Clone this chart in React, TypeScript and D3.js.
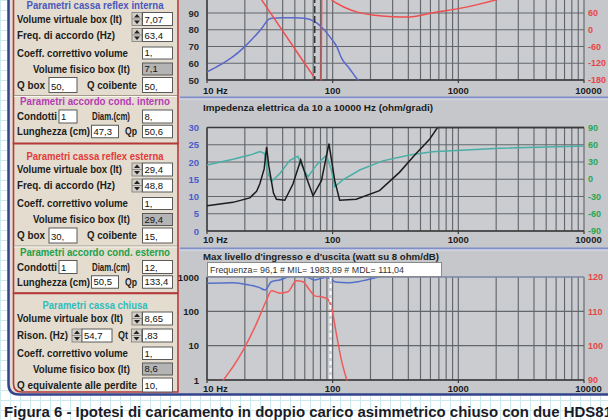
import React from "react";
import * as d3 from "d3";

const FONT = "'Liberation Sans', Arial, sans-serif";

// ---------------- chart data ----------------
const freqTicks = [10, 100, 1000, 10000];
const freqTickLabels = ["10 Hz", "100", "1000", "10000"];

// panel 1 : SPL (dB) + phase (deg)
const splTicks = [50, 60, 70, 80, 90];
const splPhaseTicks = [-180, -120, -60, 0, 60];
const splCurve: [number, number][] = [
  [10, 54.8], [12.7, 59], [16.1, 63.9], [19.3, 68.9], [23.2, 74.9], [27.3, 80.9], [30.5, 85.8],
  [32.8, 86.8], [40, 87.2], [50, 87.2], [59.9, 86.8], [72, 84.8], [83.3, 80.9], [94.8, 75.9],
  [107.8, 69.9], [118, 62.9], [136, 56.9], [155, 51], [175, 46],
];
const splPhaseLow: [number, number][] = [
  [15, 290], [20, 205], [27.3, 106], [40, -4], [54.6, -94], [72, -173], [74, -185],
];
const splPhaseHigh: [number, number][] = [
  [81, -185], [82.5, 230], [88, 160], [95, 115], [114, 89], [155, 64], [207, 53], [300, 47],
  [410, 46], [620, 60], [1160, 81], [2000, 107], [3000, 130],
];
const splCursorFreq = 72;

// panel 2 : impedance (ohm) + phase (deg)
const impTitle = "Impedenza elettrica da 10 a 10000 Hz (ohm/gradi)";
const impTicks = [0, 5, 10, 15, 20, 25, 30];
const impPhaseTicks = [-90, -60, -30, 0, 30, 60, 90];
const impedance: [number, number][] = [
  [10, 7.3], [16.1, 8.3], [21.9, 9.6], [24.8, 11.5], [26.3, 13.6], [28.5, 18], [29.8, 24.3],
  [31, 19], [32.6, 14.3], [33.8, 11], [35.7, 9.2], [41.6, 8.9], [48.3, 13.6], [55.7, 20.6],
  [61.8, 15.5], [69.8, 10.2], [81.4, 14.6], [93.4, 25.3], [103.9, 14.6], [113.7, 8.9],
  [154, 9.2], [236, 11.7], [340, 17], [450, 22], [588, 26.5], [683, 30], [800, 34],
  [1500, 50], [10000, 120],
];
const impPhase: [number, number][] = [
  [10, 24.8], [16.1, 34.7], [21.9, 42], [26.3, 48], [28.6, 45], [30.6, 10], [32.6, -4],
  [38, 10], [45.6, 33], [52.9, 40], [56.4, 25], [63.6, 4], [74.4, 25], [89, 42], [97.7, 16],
  [103.9, -13], [120.7, -1], [164, 16], [250, 32], [410, 42], [620, 48], [2130, 54], [10000, 58],
];

// panel 3 : max input (watt) + max output (dB)
const maxTitle = "Max livello d'ingresso e d'uscita (watt su 8 ohm/dB)";
const wattTicks = [1, 10, 100, 1000];
const dbTicks = [90, 100, 110, 120];
const milCurve: [number, number][] = [
  [10, 655], [16.1, 683], [21.9, 580], [26, 500], [28.9, 420], [32.6, 730], [38, 820],
  [44.2, 1000], [52, 1080], [62, 1000], [72, 820], [80, 900], [89, 980], [96, 870],
  [104, 730], [120, 690], [136, 680], [160, 730], [185, 820], [230, 1000], [270, 1150],
  [400, 1600], [1000, 3000], [10000, 9000],
];
const mdlCurve: [number, number][] = [
  [12.5, 88], [13.9, 90.6], [16.2, 94], [19.4, 98.7], [24.8, 106.5], [29.8, 113.3],
  [32.6, 116], [38, 115.3], [44, 115.7], [51.5, 118.9], [58, 118.6], [65.6, 116.2],
  [72, 114.5], [83.6, 114.1], [91.6, 113.5], [97.6, 111.4], [106.8, 103.6], [117.4, 95.8],
  [128.4, 90.5], [135, 88],
];
const cursorFreq = 96.1;
const tooltipText = "Frequenza= 96,1 # MIL= 1983,89 # MDL= 111,04";

// ---------------- form data ----------------
const sectionTitles = [
  "Parametri cassa reflex interna",
  "Parametri accordo cond. interno",
  "Parametri cassa reflex esterna",
  "Parametri accordo cond. esterno",
  "Parametri cassa chiusa",
];
const reflexLabels = [
  "Volume virtuale box (lt)", "Freq. di accordo (Hz)", "Coeff. correttivo volume",
  "Volume fisico box (lt)", "Q box", "Q coibente",
];
const ductLabels = ["Condotti", "Diam.(cm)", "Lunghezza (cm)", "Qp"];
const reflexIntValues = ["7,07", "63,4", "1,", "7,1", "50,", "50,"];
const ductIntValues = ["1", "8,", "47,3", "50,6"];
const reflexExtValues = ["29,4", "48,8", "1,", "29,4", "30,", "15,"];
const ductExtValues = ["1", "12,", "50,5", "133,4"];
const closedLabels = [
  "Volume virtuale box (lt)", "Rison. (Hz)", "Qt", "Coeff. correttivo volume",
  "Volume fisico box (lt)", "Q equivalente alle perdite",
];
const closedValues = ["8,65", "54,7", ",83", "1,", "8,6", "10,"];
const caption =
  "Figura 6 - Ipotesi di caricamento in doppio carico asimmetrico chiuso con due HDS81";

// ---------------- helpers ----------------
function Label({ x, y, t, w, color = "#1c1c1c", anchor = "start", size = 10 }: any) {
  return (
    <text x={x} y={y} textLength={w} lengthAdjust="spacingAndGlyphs" fontFamily={FONT}
      fontWeight="bold" fontSize={size} fill={color} textAnchor={anchor}>{t}</text>
  );
}
function Box({ x, y, w, h, v, gray = false }: any) {
  return (
    <g>
      <rect x={x} y={y} width={w} height={h} fill={gray ? "#b4b4b4" : "#ffffff"} stroke="#5a5a5a" strokeWidth={1} />
      <text x={x + 2} y={y + h - 3} fontFamily={FONT} fontSize={9.5} fill="#111">{v}</text>
    </g>
  );
}
function Spinner({ x, y, h }: any) {
  const m = y + h / 2;
  return (
    <g>
      <rect x={x} y={y} width={10} height={h} fill="#d4d0c8" stroke="#7a7a7a" strokeWidth={0.8} />
      <path d={`M${x + 2},${m - 1.5} L${x + 5},${y + 1.5} L${x + 8},${m - 1.5} Z`} fill="#222" />
      <path d={`M${x + 2},${m + 1.5} L${x + 5},${y + h - 1.5} L${x + 8},${m + 1.5} Z`} fill="#222" />
      <line x1={x} x2={x + 10} y1={m} y2={m} stroke="#666" strokeWidth={0.6} />
    </g>
  );
}

function ReflexSection({ b, values, duct, c1, c2, t1, t2 }: any) {
  const r = [19, 35, 53, 69, 85];
  const r6 = 116.5, r7 = 131.5;
  return (
    <g>
      <Label x={95} y={b + 9} t={t1} w={137} color={c1} anchor="middle" />
      <Label x={17} y={b + r[0] + 3.5} t={reflexLabels[0]} w={105} />
      <Spinner x={132} y={b + r[0] - 6.5} h={13} />
      <Box x={142.5} y={b + r[0] - 6.5} w={30} h={13} v={values[0]} />
      <Label x={17} y={b + r[1] + 3.5} t={reflexLabels[1]} w={98} />
      <Spinner x={132} y={b + r[1] - 6.5} h={13} />
      <Box x={142.5} y={b + r[1] - 6.5} w={30} h={13} v={values[1]} />
      <Label x={17} y={b + r[2] + 3.5} t={reflexLabels[2]} w={111} />
      <Box x={142.5} y={b + r[2] - 6} w={30} h={12} v={values[2]} />
      <Label x={33} y={b + r[3] + 3.5} t={reflexLabels[3]} w={97} />
      <Box x={142.5} y={b + r[3] - 6} w={30} h={12} v={values[3]} gray />
      <Label x={17} y={b + r[4] + 3.5} t={reflexLabels[4]} w={28} />
      <Box x={49} y={b + r[4] - 7.5} w={28} h={15} v={values[4]} />
      <Label x={87} y={b + r[4] + 3.5} t={reflexLabels[5]} w={50} />
      <Box x={142.5} y={b + r[4] - 7.5} w={30} h={15} v={values[5]} />
      <line x1={14} x2={177} y1={b + 95.5} y2={b + 95.5} stroke="#a39a8c" strokeWidth={1} />
      <line x1={14} x2={177} y1={b + 96.5} y2={b + 96.5} stroke="#faf6f0" strokeWidth={1} />
      <Label x={95} y={b + 105} t={t2} w={150} color={c2} anchor="middle" />
      <Label x={17} y={b + r6 + 3.5} t={ductLabels[0]} w={40} />
      <Box x={59} y={b + r6 - 6.5} w={18} h={13} v={duct[0]} />
      <Label x={92} y={b + r6 + 3.5} t={ductLabels[1]} w={38} />
      <Box x={142.5} y={b + r6 - 6.5} w={30} h={13} v={duct[1]} />
      <Label x={17} y={b + r7 + 3.5} t={ductLabels[2]} w={73} />
      <Box x={91.5} y={b + r7 - 6.25} w={27} h={12.5} v={duct[2]} />
      <Label x={125} y={b + r7 + 3.5} t={ductLabels[3]} w={12} />
      <Box x={142.5} y={b + r7 - 6.25} w={30} h={12.5} v={duct[3]} />
    </g>
  );
}

const GRID = "#63676c";

function Panel({ top, bottom, clip, leftScale, leftTicks, leftColor, rightScale, rightTicks, rightColor, x, labelY, extraTop = 0 }: any) {
  const x0 = x.range()[0], x1 = x.range()[1];
  const minor: number[] = [];
  [10, 100, 1000].forEach((d) => d3.range(1, 10).forEach((k) => minor.push(k * d)));
  minor.push(10000);
  return (
    <g>
      <clipPath id={clip}><rect x={x0} y={top - 1} width={x1 - x0} height={bottom - top + 1.5} /></clipPath>
      <rect x={x0} y={top - extraTop} width={x1 - x0} height={bottom - top + extraTop} fill="#cacccf" />
      {minor.map((f) => (
        <line key={f} x1={x(f)} x2={x(f)} y1={top - extraTop} y2={bottom} stroke={GRID} strokeWidth={1.15} />
      ))}
      {leftTicks.map((t: number) => (
        <line key={t} x1={x0} x2={x1} y1={leftScale(t)} y2={leftScale(t)} stroke={GRID} strokeWidth={1.15} />
      ))}
      <line x1={x0} x2={x1} y1={bottom} y2={bottom} stroke="#3a3a3a" strokeWidth={1.4} />
      <line x1={x0} x2={x0} y1={top - extraTop} y2={bottom} stroke="#3a3a3a" strokeWidth={1.4} />
      {freqTicks.map((f) => (
        <line key={"t" + f} x1={x(f)} x2={x(f)} y1={bottom} y2={bottom + 3} stroke="#3a3a3a" strokeWidth={1.2} />
      ))}
      {leftTicks.map((t: number) => (
        <text key={"l" + t} x={199} y={leftScale(t) + 3.5} textAnchor="end" fontFamily={FONT}
          fontWeight="bold" fontSize={9.5} fill={leftColor}>{t}</text>
      ))}
      {rightTicks.map((t: number) => (
        <text key={"r" + t} x={588} y={rightScale(t) + 3.2} fontFamily={FONT}
          fontWeight="bold" fontSize={9} fill={rightColor}>{t}</text>
      ))}
      {freqTicks.map((f, i) => (
        <text key={"x" + f} x={i === 0 ? 203 : i === 3 ? x(f) + 4.5 : x(f)} y={labelY}
          textAnchor={i === 0 ? "start" : "middle"} fontFamily={FONT} fontWeight="bold"
          fontSize={9.5} fill="#1c1c1c">{freqTickLabels[i]}</text>
      ))}
    </g>
  );
}

export default function App() {
  const x = d3.scaleLog().domain([10, 10000]).range([207, 584]);

  // panel 1
  const ySpl = d3.scaleLinear().domain([50, 90]).range([80, 13]);
  const yPh = d3.scaleLinear().domain([-180, 60]).range([80, 13]);
  // panel 2
  const yZ = d3.scaleLinear().domain([0, 30]).range([231, 127.5]).clamp(true);
  const yZp = d3.scaleLinear().domain([-90, 90]).range([231, 127.5]);
  // panel 3
  const yW = d3.scaleLog().domain([1, 1000]).range([380, 277]);
  const yDb = d3.scaleLinear().domain([90, 120]).range([380, 277]);

  const mk = (ys: any, curve: any = d3.curveLinear) =>
    d3.line<[number, number]>().x((d) => x(d[0])).y((d) => ys(d[1])).curve(curve);

  const paperV = d3.range(0, 610, 10);
  const paperH = d3.range(0, 421, 10);

  return (
    <svg width={608} height={420} style={{ position: "absolute", left: 0, top: 0, display: "block" }}>
      {/* graph paper */}
      <rect x={0} y={0} width={608} height={420} fill="#ffffff" />
      {paperV.map((v) => <line key={"pv" + v} x1={v + 0.5} x2={v + 0.5} y1={0} y2={420} stroke="#cdebee" strokeWidth={1} />)}
      {paperH.map((v) => <line key={"ph" + v} x1={0} x2={608} y1={v + 0.5} y2={v + 0.5} stroke="#cdebee" strokeWidth={1} />)}

      {/* window backgrounds */}
      <path d="M9,0 H180 V395 H19 Q9,395 9,385 Z" fill="#e3dccf" />
      <rect x={179} y={0} width={429} height={395} fill="#c5c7cb" />

      {/* form */}
      <rect x={13.5} y={-3} width={164.5} height={146.5} fill="none" stroke="#b43a3a" strokeWidth={1.6} />
      <rect x={13.5} y={143.5} width={164.5} height={149.5} fill="none" stroke="#b43a3a" strokeWidth={1.6} />
      <path d="M13.5,293.5 H178 V392 H22 Q13.5,392 13.5,384 Z" fill="none" stroke="#b43a3a" strokeWidth={1.6} />

      <ReflexSection b={0} values={reflexIntValues} duct={ductIntValues} c1="#4a58bd" c2="#b43cb4"
        t1={sectionTitles[0]} t2={sectionTitles[1]} />
      <ReflexSection b={150.5} values={reflexExtValues} duct={ductExtValues} c1="#e23a3a" c2="#22a04a"
        t1={sectionTitles[2]} t2={sectionTitles[3]} />

      {/* closed box section */}
      <Label x={95} y={308.5} t={sectionTitles[4]} w={105} color="#2fbcbc" anchor="middle" />
      <Label x={17} y={322} t={closedLabels[0]} w={106} />
      <Spinner x={132} y={312} h={13} />
      <Box x={142.5} y={312} w={30} h={13} v={closedValues[0]} />
      <Label x={17} y={339} t={closedLabels[1]} w={51} />
      <Spinner x={72} y={329} h={13} />
      <Box x={82} y={329} w={30} h={13} v={closedValues[1]} />
      <Label x={118} y={339} t={closedLabels[2]} w={10} />
      <Spinner x={131.5} y={329} h={13} />
      <Box x={142.5} y={329} w={30} h={13} v={closedValues[2]} />
      <Label x={17} y={356.5} t={closedLabels[3]} w={111} />
      <Box x={142.5} y={347} w={30} h={12.5} v={closedValues[3]} />
      <Label x={33} y={372.5} t={closedLabels[4]} w={97} />
      <Box x={142.5} y={363} w={30} h={12} v={closedValues[4]} gray />
      <Label x={17} y={388.5} t={closedLabels[5]} w={120} />
      <Box x={142.5} y={378} w={30} h={14} v={closedValues[5]} />

      {/* panel 1 */}
      <Panel top={-4} bottom={80} clip="c1" x={x} leftScale={ySpl} leftTicks={splTicks} leftColor="#2a2a2a"
        rightScale={yPh} rightTicks={splPhaseTicks} rightColor="#e84646" labelY={94} />
      <g clipPath="url(#c1)">
        <path d={mk(ySpl, d3.curveMonotoneX)(splCurve) as string} fill="none" stroke="#5a68cc" strokeWidth={1.5} />
        <path d={mk(yPh)(splPhaseLow) as string} fill="none" stroke="#f04e4e" strokeWidth={1.5} />
        <path d={mk(yPh, d3.curveMonotoneX)(splPhaseHigh) as string} fill="none" stroke="#f04e4e" strokeWidth={1.5} />
        <line x1={x(splCursorFreq)} x2={x(splCursorFreq)} y1={-4} y2={80} stroke="#2e2e2e" strokeWidth={1.4} strokeDasharray="7,3" />
      </g>

      {/* separator */}
      <line x1={180} x2={608} y1={97.5} y2={97.5} stroke="#7f8dc8" strokeWidth={2} />
      <line x1={180} x2={608} y1={99} y2={99} stroke="#dde1ee" strokeWidth={1} />

      {/* panel 2 */}
      <Label x={203} y={110.5} t={impTitle} w={230} size={9.5} />
      <Panel top={127.5} bottom={231} clip="c2" x={x} leftScale={yZ} leftTicks={impTicks} leftColor="#4a5ccc"
        rightScale={yZp} rightTicks={impPhaseTicks} rightColor="#27a650" labelY={243} />
      <g clipPath="url(#c2)">
        <path d={mk(yZp)(impPhase) as string} fill="none" stroke="#4aaea6" strokeWidth={1.5} />
        <path d={mk(yZ)(impedance) as string} fill="none" stroke="#1c1c1c" strokeWidth={1.5} />
      </g>
      <line x1={x(10)} x2={x(10000)} y1={127.5} y2={127.5} stroke="#3a3a3a" strokeWidth={1.3} />

      {/* separator */}
      <line x1={180} x2={608} y1={248.5} y2={248.5} stroke="#7f8dc8" strokeWidth={2} />
      <line x1={180} x2={608} y1={250} y2={250} stroke="#dde1ee" strokeWidth={1} />

      {/* panel 3 */}
      <Label x={203} y={259.5} t={maxTitle} w={236} size={9.5} />
      <Panel top={277} bottom={380} clip="c3" x={x} leftScale={yW} leftTicks={wattTicks} leftColor="#1c1c1c"
        rightScale={yDb} rightTicks={dbTicks} rightColor="#e84646" labelY={392} />
      <g clipPath="url(#c3)">
        <path d={mk(yW, d3.curveMonotoneX)(milCurve) as string} fill="none" stroke="#5570c8" strokeWidth={1.5} />
        <path d={mk(yDb, d3.curveMonotoneX)(mdlCurve) as string} fill="none" stroke="#f25a5a" strokeWidth={1.5} />
        <line x1={x(cursorFreq)} x2={x(cursorFreq)} y1={277} y2={380} stroke="#ffffff" strokeWidth={2} strokeDasharray="4,3" />
      </g>
      <line x1={x(10)} x2={x(10000)} y1={277} y2={277} stroke="#8a96c4" strokeWidth={1.2} />
      <rect x={207.5} y={262.5} width={234} height={14} fill="#ffffff" stroke="#8a8a8a" strokeWidth={1} />
      <text x={210} y={273} fontFamily={FONT} fontSize={8.5} fill="#333" textLength={194} lengthAdjust="spacingAndGlyphs">{tooltipText}</text>

      {/* frame */}
      <path d="M8.5,0 V384 Q8.5,394.5 19,394.5 H608" fill="none" stroke="#34448e" strokeWidth={2.5} />

      {/* caption */}
      <text x={4} y={417} fontFamily={FONT} fontWeight="bold" fontSize={15.5} fill="#1b1b28"
        textLength={608} lengthAdjust="spacingAndGlyphs">{caption}</text>
    </svg>
  );
}
